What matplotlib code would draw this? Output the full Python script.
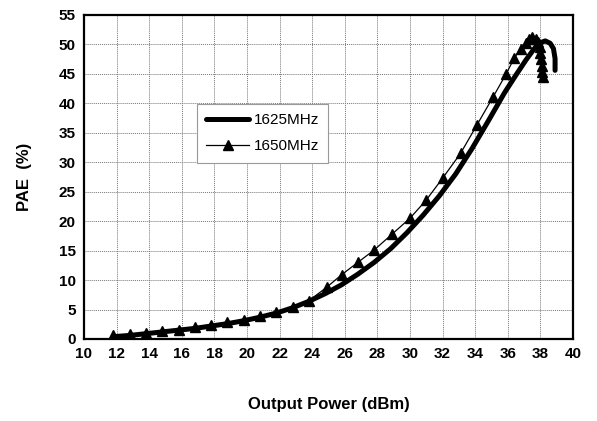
import matplotlib.pyplot as plt
from matplotlib.ticker import MultipleLocator

plt.rcParams['font.family'] = ['Liberation Sans', 'DejaVu Sans']

# 1625MHz (thick line)
p_1625 = [11.8, 12.8, 13.8, 14.8, 15.8, 16.8, 17.8, 18.8, 19.8, 20.8, 21.8, 22.8,
          23.8, 24.8, 25.8, 26.8, 27.8, 28.8, 29.8, 30.8, 31.8, 32.8, 33.8, 34.8,
          35.8, 36.5, 37.1, 37.6, 38.0, 38.3, 38.6, 38.8, 38.9, 38.9]
pae_1625 = [0.4, 0.6, 0.9, 1.2, 1.5, 1.8, 2.2, 2.6, 3.1, 3.7, 4.4, 5.3,
            6.4, 7.7, 9.2, 11.0, 13.0, 15.3, 18.0, 21.0, 24.3, 28.0, 32.3, 37.0,
            41.8, 44.8, 47.3, 49.2, 50.3, 50.6, 50.2, 49.3, 47.6, 45.6]

# 1650MHz (thin line, triangles)
p_1650 = [11.8, 12.8, 13.8, 14.8, 15.8, 16.8, 17.8, 18.8, 19.8, 20.8, 21.8, 22.8,
          23.8, 24.9, 25.8, 26.8, 27.8, 28.9, 30.0, 31.0, 32.0, 33.1, 34.1, 35.1,
          35.9, 36.4, 36.8, 37.1, 37.3, 37.5, 37.7, 37.85, 37.95, 38.0, 38.05, 38.1,
          38.12, 38.15]
pae_1650 = [0.6, 0.8, 1.0, 1.3, 1.6, 2.0, 2.4, 2.8, 3.3, 3.9, 4.6, 5.4,
            6.5, 8.8, 10.9, 13.0, 15.1, 17.8, 20.5, 23.6, 27.3, 31.5, 36.3, 41.1,
            45.0, 47.7, 49.3, 50.3, 50.9, 51.2, 51.0, 50.4, 49.5, 48.5, 47.5, 46.4,
            45.4, 44.5]

fig = plt.figure(figsize=(5.97, 4.21), dpi=100)
ax = fig.add_axes([0.1407, 0.1948, 0.8191, 0.7696])

ax.plot(p_1625, pae_1625, color='black', lw=3.6, solid_capstyle='round',
        label='1625MHz', zorder=3)
ax.plot(p_1650, pae_1650, color='black', lw=0.9, marker='^', ms=7.5,
        label='1650MHz', zorder=4)

ax.set_xlim(10, 40)
ax.set_ylim(0, 55)
ax.xaxis.set_major_locator(MultipleLocator(2))
ax.yaxis.set_major_locator(MultipleLocator(5))
ax.grid(True, color='#777777', linestyle=(0, (1, 1)), lw=0.7)
ax.set_axisbelow(True)
ax.tick_params(length=0, labelsize=11, pad=6)
for lab in ax.get_xticklabels() + ax.get_yticklabels():
    lab.set_fontweight('bold')
for s in ax.spines.values():
    s.set_linewidth(1.6)

ax.set_xlabel('Output Power (dBm)', fontsize=12, fontweight='bold', labelpad=26)
ax.set_ylabel('PAE  (%)', fontsize=12, fontweight='bold', labelpad=19)

leg = ax.legend(loc='upper left', bbox_to_anchor=(0.231, 0.725), borderaxespad=0,
                fontsize=11, handlelength=2.8, frameon=True, fancybox=False,
                edgecolor='#999999', framealpha=1, borderpad=0.6,
                labelspacing=0.8, handletextpad=0.3)
leg.get_frame().set_linewidth(0.8)

fig.savefig('out.png', dpi=100)
